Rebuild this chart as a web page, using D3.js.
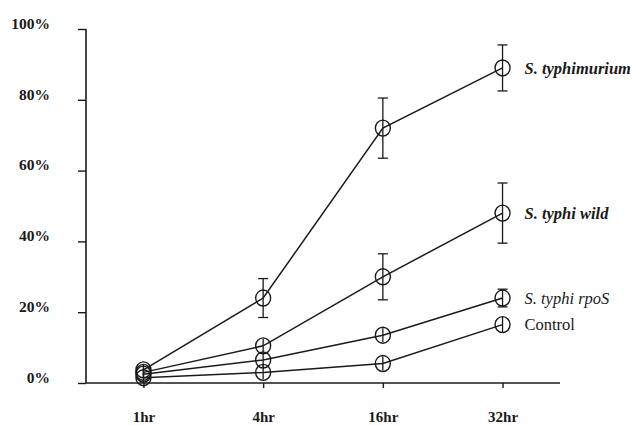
<!DOCTYPE html>
<style>
body { margin: 0; background: #fff; }
svg { font-family: 'Liberation Serif', 'Times New Roman', serif; }
.axis .domain { display: none; }
</style>
<svg width="633" height="425"></svg>
<script src="https://d3js.org/d3.v7.min.js"></script>
<script>
// time points and tick labels
var times = ["1hr", "4hr", "16hr", "32hr"];
var yTicks = [0, 20, 40, 60, 80, 100];

// series values (% ) and error bars
var names = ["S. typhimurium", "S. typhi wild", "S. typhi rpoS", "Control"];
var typhimurium = [3.7, 24, 72, 89];
var typhimuriumErr = [1.5, 5.5, 8.5, 6.5];
var typhiWild = [3, 10.5, 30, 48];
var typhiWildErr = [1.5, 2, 6.5, 8.5];
var typhiRpoS = [2.5, 6.5, 13.5, 24];
var typhiRpoSErr = [1.5, 2, 2, 2.5];
var control = [1.5, 3, 5.5, 16.5];
var controlErr = [1.5, 2, 2, 2.2];

var series = [
  {name: names[0], values: typhimurium, err: typhimuriumErr, style: "italic", weight: "bold"},
  {name: names[1], values: typhiWild, err: typhiWildErr, style: "italic", weight: "bold"},
  {name: names[2], values: typhiRpoS, err: typhiRpoSErr, style: "italic", weight: "normal"},
  {name: names[3], values: control, err: controlErr, style: "normal", weight: "normal"}
];

var svg = d3.select("svg");
var serif = "'Liberation Serif', 'Times New Roman', serif";

var x = d3.scalePoint()
    .domain(times)
    .range([86, 560])
    .padding(0.48);

var y = d3.scaleLinear()
    .domain([0, 100])
    .range([383, 29]);

var ink = "#1a1a1a";

// y axis
svg.append("line")
    .attr("x1", 86).attr("x2", 86)
    .attr("y1", y(100)).attr("y2", y(0))
    .attr("stroke", ink).attr("stroke-width", 1.6);

var yAxis = svg.append("g")
    .attr("class", "axis")
    .attr("transform", "translate(86,0)")
    .call(d3.axisLeft(y).tickValues(yTicks).tickSize(8).tickPadding(28)
      .tickFormat(function(d) { return d + "%"; }));
yAxis.attr("font-family", serif);
yAxis.selectAll("line").attr("stroke", ink).attr("stroke-width", 1.4);
yAxis.selectAll("text")
    .attr("dy", "-0.05em")
    .attr("fill", ink)
    .style("font-size", "15.5px")
    .style("font-weight", "bold");

// x axis
svg.append("line")
    .attr("x1", 86).attr("x2", 560)
    .attr("y1", y(0)).attr("y2", y(0))
    .attr("stroke", ink).attr("stroke-width", 1.6);

var xAxis = svg.append("g")
    .attr("class", "axis")
    .attr("transform", "translate(0," + y(0) + ")")
    .call(d3.axisBottom(x).tickSize(5).tickPadding(23));
xAxis.attr("font-family", serif);
xAxis.selectAll("line").attr("stroke", ink).attr("stroke-width", 1.4);
xAxis.selectAll("text")
    .attr("fill", ink)
    .style("font-size", "15px")
    .style("font-weight", "bold");

var line = d3.line()
    .x(function(d, i) { return x(times[i]); })
    .y(function(d) { return y(d); });

var g = svg.selectAll(".series")
    .data(series)
    .enter().append("g")
      .attr("class", "series");

g.append("path")
    .attr("d", function(d) { return line(d.values); })
    .attr("fill", "none")
    .attr("stroke", ink)
    .attr("stroke-width", 1.5);

var pts = g.selectAll(".pt")
    .data(function(s) {
      return s.values.map(function(v, i) { return {t: times[i], v: v, e: s.err[i]}; });
    })
    .enter().append("g")
      .attr("class", "pt");

// error bars
pts.append("line")
    .attr("x1", function(d) { return x(d.t); })
    .attr("x2", function(d) { return x(d.t); })
    .attr("y1", function(d) { return y(d.v + d.e); })
    .attr("y2", function(d) { return y(d.v - d.e); })
    .attr("stroke", ink).attr("stroke-width", 1.3);

pts.filter(function(d) { return d.e >= 2.5; }).each(function(d) {
  var p = d3.select(this);
  [d.v + d.e, d.v - d.e].forEach(function(v) {
    p.append("line")
      .attr("x1", x(d.t) - 5).attr("x2", x(d.t) + 5)
      .attr("y1", y(v)).attr("y2", y(v))
      .attr("stroke", ink).attr("stroke-width", 1.3);
  });
});

pts.append("ellipse")
    .attr("cx", function(d) { return x(d.t); })
    .attr("cy", function(d) { return y(d.v); })
    .attr("rx", 7.5)
    .attr("ry", 8)
    .attr("fill", "none")
    .attr("stroke", ink)
    .attr("stroke-width", 1.4);

// series labels
g.append("text")
    .attr("x", x(times[3]) + 22)
    .attr("y", function(d) { return y(d.values[3]); })
    .attr("dy", "0.35em")
    .attr("fill", ink)
    .style("font-size", "16.5px")
    .style("font-style", function(d) { return d.style; })
    .style("font-weight", function(d) { return d.weight; })
    .text(function(d) { return d.name; });
</script>
